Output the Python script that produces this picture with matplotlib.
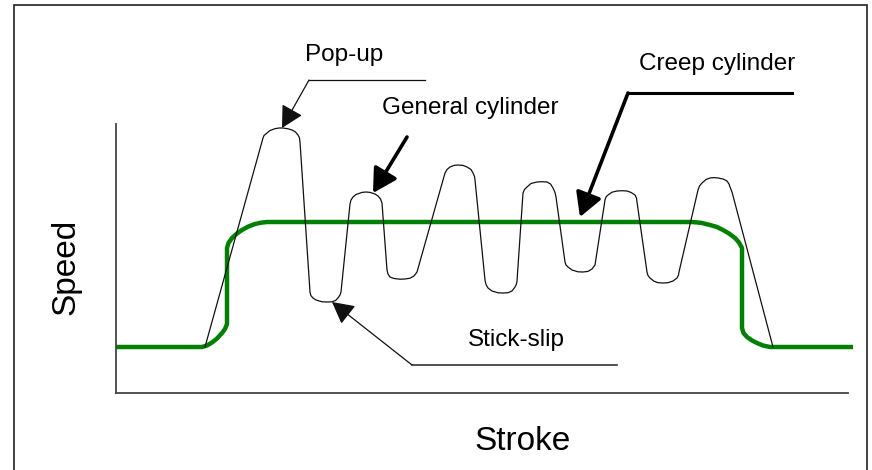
import matplotlib
matplotlib.use('Agg')
import matplotlib.pyplot as plt
from matplotlib.patches import Rectangle

plt.rcParams['font.family'] = ['Liberation Sans', 'DejaVu Sans']

# black curve: cylinder with pop-up / stick-slip behaviour (stroke, speed)
general_stroke = [89, 147, 148, 151, 154, 159, 163, 167, 172, 176, 179.5, 182, 183.5, 184,
                  194, 194.8, 197, 200, 206, 211, 216, 219.5, 222, 224, 225,
                  234, 235, 237, 240, 246, 250, 254, 259, 262, 264.5, 266,
                  271, 272, 274, 278, 284, 289, 294, 298, 301,
                  329, 331, 334, 338, 342, 347, 351, 355, 357, 358.5, 359,
                  369, 370, 372, 376, 382, 387, 392, 396, 399, 400.5, 401,
                  407, 408.5, 411, 415, 421, 426, 431, 434.5, 437, 439, 440,
                  449, 450, 452, 456, 462, 467, 472, 476, 479,
                  489, 490, 492, 496, 501, 506, 511, 515, 519, 520.5, 521,
                  531, 532, 534, 538, 542, 547, 552, 557, 561, 562.5, 563,
                  582, 583.5, 586, 590, 594, 598, 602, 607, 611, 613, 614, 616, 657]
general_speed = [46, 255, 257.5, 260, 262.5, 264.3, 265, 265, 264.2, 263, 261, 258, 255, 251,
                 101, 97.5, 95, 93, 91.2, 91, 91.2, 92.5, 95, 98, 101,
                 189, 193, 196, 198.5, 200.6, 201, 200.6, 199, 197, 194, 190,
                 123, 119, 116, 114.5, 113.8, 114, 114.8, 117, 121,
                 220, 223.5, 226, 227.6, 228, 227.6, 226, 223.5, 220, 216.5, 213,
                 113, 108.5, 105, 102, 100.2, 100, 100.3, 102, 106, 109, 112,
                 200, 203.5, 206, 209.5, 211, 211.3, 211, 209, 205, 200.5, 196,
                 131, 128, 126, 123, 121.2, 121, 121.6, 124, 128,
                 193, 196, 198, 200.8, 202, 202.3, 202, 200.6, 198, 195, 191,
                 121, 117.5, 115, 111.8, 110.3, 110, 110.3, 112, 115, 118, 121,
                 203, 207, 210, 213.5, 215, 215.4, 215, 214, 212, 209, 206, 201, 46]

# green curve: creep cylinder
creep_stroke = [0, 86, 91, 96, 101, 106, 109, 111, 111, 112.5, 116, 121, 126, 132, 139, 145, 151,
                576, 585, 594, 601, 607, 613, 619, 623, 626, 626, 627.5, 631, 636, 641, 647, 654, 737]
creep_speed = [46, 46, 47.5, 50.5, 54.5, 60, 64, 69, 145, 150, 155, 159.5, 163, 166.3, 169, 170.3, 171,
               171, 170.2, 168, 166, 163, 159.5, 155, 150.5, 145, 65, 60, 56, 52.5, 50, 47.5, 46, 46]

fig = plt.figure(figsize=(8.72, 4.7), dpi=100)
fig.patches.append(Rectangle((14 / 872, -0.05), (867 - 14) / 872, (465 + 24) / 470,
                             transform=fig.transFigure, fill=False,
                             edgecolor='#222222', lw=1.2))

ax = fig.add_axes([116 / 872, 77 / 470, 732 / 872, 269 / 470])
ax.set_xlim(0, 732)
ax.set_ylim(0, 269)
for s in ['top', 'right']:
    ax.spines[s].set_visible(False)
for s in ['left', 'bottom']:
    ax.spines[s].set_color('#444444')
    ax.spines[s].set_linewidth(1.3)
ax.set_xticks([])
ax.set_yticks([])
ax.patch.set_alpha(0)

ax.plot(creep_stroke, creep_speed, color='#008000', lw=3.2, clip_on=False,
        solid_capstyle='butt', solid_joinstyle='round', zorder=2)
ax.plot(general_stroke, general_speed, color='#111111', lw=0.9, clip_on=False,
        solid_joinstyle='round', zorder=3)

ax.text(-50, 126, 'Speed', rotation=90, ha='center', va='center', fontsize=24)
ax.text(407, -48, 'Stroke', ha='center', va='center', fontsize=24)

lab = dict(ha='center', va='center', fontsize=17.5)
ax.text(228, 338, 'Pop-up', **lab)
ax.text(354, 285, 'General cylinder', **lab)
ax.text(601, 329, 'Creep cylinder', **lab)
ax.text(400, 53, 'Stick-slip', **lab)

thin = dict(arrowstyle='-|>,head_length=0.75,head_width=0.4', color='#111111',
            lw=0.9, mutation_scale=18, shrinkA=0, shrinkB=0)
thick = dict(arrowstyle='-|>,head_length=0.8,head_width=0.45', color='black',
             lw=2.6, mutation_scale=18, shrinkA=0, shrinkB=0)

# Pop-up leader
ax.plot([193, 309], [313, 313], color='#111111', lw=0.9, clip_on=False)
ax.annotate('', xy=(166, 265), xytext=(193, 313), arrowprops=thin, annotation_clip=False)
# General cylinder
ax.annotate('', xy=(257, 200), xytext=(291, 256), arrowprops=thick, annotation_clip=False)
# Creep cylinder leader
ax.plot([512, 676], [300, 300], color='black', lw=2.2, clip_on=False)
ax.annotate('', xy=(464, 176), xytext=(512, 300), arrowprops=thick, annotation_clip=False)
# Stick-slip leader
ax.plot([296, 501], [28, 28], color='#333333', lw=1.2, clip_on=False)
ax.annotate('', xy=(216, 91), xytext=(296, 28), arrowprops=thin, annotation_clip=False)

fig.savefig('out.png', dpi=100)
